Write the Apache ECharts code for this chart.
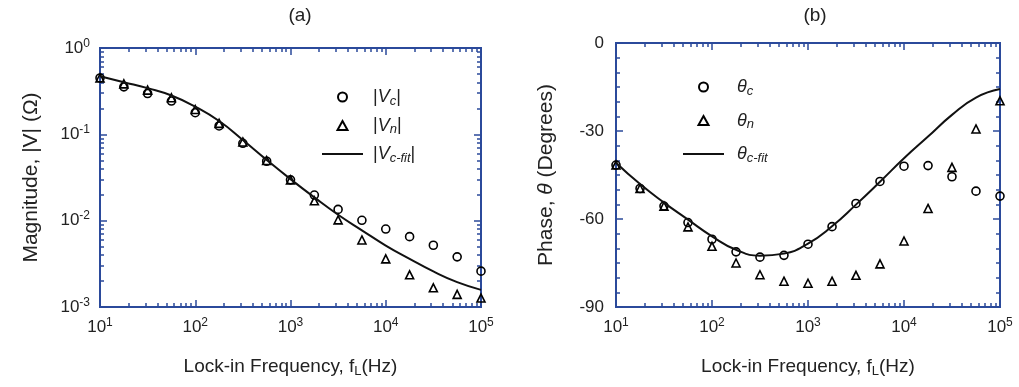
<!DOCTYPE html>
<html>
<head>
<meta charset="utf-8">
<script src="https://cdn.jsdelivr.net/npm/echarts@6/dist/echarts.min.js"></script>
<style>
  html, body { margin: 0; background: #fff; overflow: hidden; }
  #chart { width: 1019px; height: 387px; }
</style>
</head>
<body>
<div id="chart"></div>
<script>
// lock-in frequencies (Hz), 4 points per decade
const freq = [10, 17.8, 31.6, 56.2, 100, 178, 316, 562, 1000, 1780, 3160, 5620, 10000, 17800, 31600, 56200, 100000]

// (a) magnitude (Ohm)
const magC = [0.45, 0.355, 0.297, 0.243, 0.178, 0.125, 0.0787, 0.0488, 0.0297, 0.0198, 0.0135, 0.0101, 0.0080, 0.00653, 0.00519, 0.00381, 0.0026]
const magN = [0.45, 0.384, 0.325, 0.265, 0.194, 0.134, 0.0816, 0.0497, 0.0297, 0.0170, 0.0102, 0.00598, 0.00361, 0.00236, 0.00167, 0.00140, 0.00127]
const magFit = [0.471, 0.402, 0.343, 0.282, 0.209, 0.1425, 0.0861, 0.0506, 0.0303, 0.0186, 0.0117, 0.00773, 0.00515, 0.00361, 0.00258, 0.00194, 0.00158]

// (b) phase (degrees)
const phaseC = [-41.6, -49.6, -55.6, -61.2, -66.9, -71.2, -73.0, -72.4, -68.6, -62.6, -54.7, -47.2, -42.0, -41.8, -45.6, -50.5, -52.2]
const phaseN = [-41.6, -49.6, -55.6, -62.7, -69.3, -75.0, -79.0, -81.2, -81.9, -81.2, -79.2, -75.3, -67.5, -56.4, -42.4, -29.3, -19.7]
const phaseFit = [-40.8, -48.1, -54.4, -60.2, -65.9, -70.5, -72.5, -71.8, -68.4, -62.5, -55.1, -47.3, -39.3, -31.9, -24.5, -18.6, -15.7]

// tick positions
const freqMajor = [10, 100, 1000, 10000, 100000]
const freqMinor = [20, 30, 40, 50, 60, 70, 80, 90, 200, 300, 400, 500, 600, 700, 800, 900,
  2000, 3000, 4000, 5000, 6000, 7000, 8000, 9000, 20000, 30000, 40000, 50000, 60000, 70000, 80000, 90000]
const magMajor = [0.001, 0.01, 0.1, 1]
const magMinor = [0.002, 0.003, 0.004, 0.005, 0.006, 0.007, 0.008, 0.009,
  0.02, 0.03, 0.04, 0.05, 0.06, 0.07, 0.08, 0.09, 0.2, 0.3, 0.4, 0.5, 0.6, 0.7, 0.8, 0.9]

const FONT = "'Liberation Sans', Arial, sans-serif"
const AXIS = "#2b4a9b"
const INK = "#222"
// legend icons
const TRI = "path://M5,0 L10,9 L0,9 Z"
const DASH = "path://M0,0 L41,0 L41,2 L0,2 Z"

const legendNames = {
  Vc: "|{i|V}{sub|c}|",
  Vn: "|{i|V}{sub|n}|",
  Vfit: "|{i|V}{sub|c-fit}|",
  tc: "{i|θ}{sub|c}",
  tn: "{i|θ}{sub|n}",
  tfit: "{i|θ}{sub|c-fit}",
}

const pairs = (ys) => freq.map((f, i) => [f, ys[i]])

const powLabel = (v) => "{b|10}{s|" + Math.round(Math.log10(v)) + "}"
const powRich = {
  b: { fontSize: 17, fontFamily: FONT, color: INK },
  s: { fontSize: 12, fontFamily: FONT, color: INK, padding: [0, 0, 9, 0] },
}

// log axis used for the labelled axis and for the tick-only mirrors
function logAxis(grid, pos, min, max, ticks, len, labels) {
  return {
    type: "log",
    logBase: 10,
    gridIndex: grid,
    position: pos,
    min: min,
    max: max,
    axisLine: { show: true, onZero: false, lineStyle: { color: AXIS, width: 2 } },
    axisTick: { show: true, inside: true, length: len, customValues: ticks, lineStyle: { color: AXIS, width: 1.5 } },
    axisLabel: labels
      ? { show: true, customValues: ticks, formatter: powLabel, rich: powRich, margin: 10 }
      : { show: false },
    splitLine: { show: false },
  }
}

const phaseAxis = (pos, labels) => ({
  type: "value",
  gridIndex: 1,
  position: pos,
  min: -90,
  max: 0,
  interval: 30,
  axisLine: { show: true, onZero: false, lineStyle: { color: AXIS, width: 2 } },
  axisTick: { show: true, inside: true, length: 7, lineStyle: { color: AXIS, width: 1.5 } },
  minorTick: { show: true, splitNumber: 6, length: 4, lineStyle: { color: AXIS, width: 1.5 } },
  axisLabel: { show: labels, fontSize: 17, fontFamily: FONT, color: INK, margin: 12 },
  splitLine: { show: false },
})

const hollow = { color: "rgba(0,0,0,0)", borderColor: "#000", borderWidth: 1.6, opacity: 1 }
const legendRich = {
  i: { fontSize: 18, fontFamily: FONT, color: INK, fontStyle: "italic" },
  sub: { fontSize: 13, fontFamily: FONT, color: INK, fontStyle: "italic", padding: [8, 0, 0, 0] },
}

function buildOption(full) {
  const xAxis = [
    logAxis(0, "bottom", 10, 100000, freqMajor, 7, true),
    logAxis(0, "bottom", 10, 100000, freqMinor, 4, false),
    logAxis(0, "top", 10, 100000, freqMajor, 7, false),
    logAxis(0, "top", 10, 100000, freqMinor, 4, false),
    logAxis(1, "bottom", 10, 100000, freqMajor, 7, true),
    logAxis(1, "bottom", 10, 100000, freqMinor, 4, false),
    logAxis(1, "top", 10, 100000, freqMajor, 7, false),
    logAxis(1, "top", 10, 100000, freqMinor, 4, false),
  ]
  const yAxis = [
    logAxis(0, "left", 0.001, 1, magMajor, 7, true),
    logAxis(0, "left", 0.001, 1, magMinor, 4, false),
    logAxis(0, "right", 0.001, 1, magMajor, 7, false),
    logAxis(0, "right", 0.001, 1, magMinor, 4, false),
    phaseAxis("left", true),
    phaseAxis("right", false),
  ]
  if (full) {
    for (const i of [0, 4]) {
      xAxis[i].name = "Lock-in Frequency, f{sub|L}(Hz)"
      xAxis[i].nameLocation = "middle"
      xAxis[i].nameGap = 49
      xAxis[i].nameTextStyle = {
        fontSize: 19, fontFamily: FONT, color: INK,
        rich: { sub: { fontSize: 13, fontFamily: FONT, color: INK, padding: [9, 0, 0, 0] } },
      }
    }
    yAxis[0].name = "Magnitude, |V| (Ω)"
    yAxis[0].nameLocation = "middle"
    yAxis[0].nameGap = 58
    yAxis[0].nameTextStyle = { fontSize: 21, fontFamily: FONT, color: INK }
    yAxis[4].name = "{n|Phase, }{i|θ}{n| (Degrees)}"
    yAxis[4].nameLocation = "middle"
    yAxis[4].nameGap = 59
    yAxis[4].nameTextStyle = {
      fontSize: 21, fontFamily: FONT, color: INK,
      rich: {
        n: { fontSize: 21, fontFamily: FONT, color: INK },
        i: { fontSize: 21, fontFamily: FONT, color: INK, fontStyle: "italic" },
      },
    }
  }
  const opt = {
    backgroundColor: "#fff",
    animation: false,
    grid: [
      { left: 100, right: 538, top: 48, bottom: 80 },
      { left: 616, right: 19, top: 43, bottom: 80 },
    ],
    xAxis: xAxis,
    yAxis: yAxis,
    series: [
      { name: "Vfit", type: "line", xAxisIndex: 0, yAxisIndex: 0, data: pairs(magFit),
        smooth: true, symbol: "none", lineStyle: { color: "#111", width: 2 }, itemStyle: { color: "#111" } },
      { name: "Vc", type: "scatter", xAxisIndex: 0, yAxisIndex: 0, data: pairs(magC),
        symbol: "circle", symbolSize: 8, itemStyle: hollow },
      { name: "Vn", type: "scatter", xAxisIndex: 0, yAxisIndex: 0, data: pairs(magN),
        symbol: "triangle", symbolSize: 8, itemStyle: hollow },
      { name: "tfit", type: "line", xAxisIndex: 4, yAxisIndex: 4, data: pairs(phaseFit),
        smooth: true, symbol: "none", lineStyle: { color: "#111", width: 2 }, itemStyle: { color: "#111" } },
      { name: "tc", type: "scatter", xAxisIndex: 4, yAxisIndex: 4, data: pairs(phaseC),
        symbol: "circle", symbolSize: 8, itemStyle: hollow },
      { name: "tn", type: "scatter", xAxisIndex: 4, yAxisIndex: 4, data: pairs(phaseN),
        symbol: "triangle", symbolSize: 8, itemStyle: hollow },
    ],
  }
  if (full) {
    opt.title = [
      { text: "(a)", left: 295, top: 1, textAlign: "center", textStyle: { fontSize: 19, fontWeight: "normal", fontFamily: FONT, color: INK } },
      { text: "(b)", left: 810, top: 1, textAlign: "center", textStyle: { fontSize: 19, fontWeight: "normal", fontFamily: FONT, color: INK } },
    ]
    opt.legend = [
      { data: ["Vc", { name: "Vn", icon: TRI }, { name: "Vfit", icon: DASH }], orient: "vertical", left: 317, top: 83,
        itemWidth: 41, itemHeight: 9, itemGap: 9, symbolKeepAspect: true,
        formatter: (n) => legendNames[n],
        textStyle: { fontSize: 18, fontFamily: FONT, color: INK, padding: [0, 0, 0, 5], rich: legendRich } },
      { data: ["tc", { name: "tn", icon: TRI }, { name: "tfit", icon: DASH }], orient: "vertical", left: 678, top: 73,
        itemWidth: 41, itemHeight: 9, itemGap: 14, symbolKeepAspect: true,
        formatter: (n) => legendNames[n],
        textStyle: { fontSize: 18, fontFamily: FONT, color: INK, padding: [0, 0, 0, 8], rich: legendRich } },
    ]
  }
  return opt
}

const chart = echarts.init(document.getElementById("chart"))
try {
  chart.setOption(buildOption(true))
} catch (e) {
  chart.clear()
  chart.setOption(buildOption(false))
}
</script>
</body>
</html>
